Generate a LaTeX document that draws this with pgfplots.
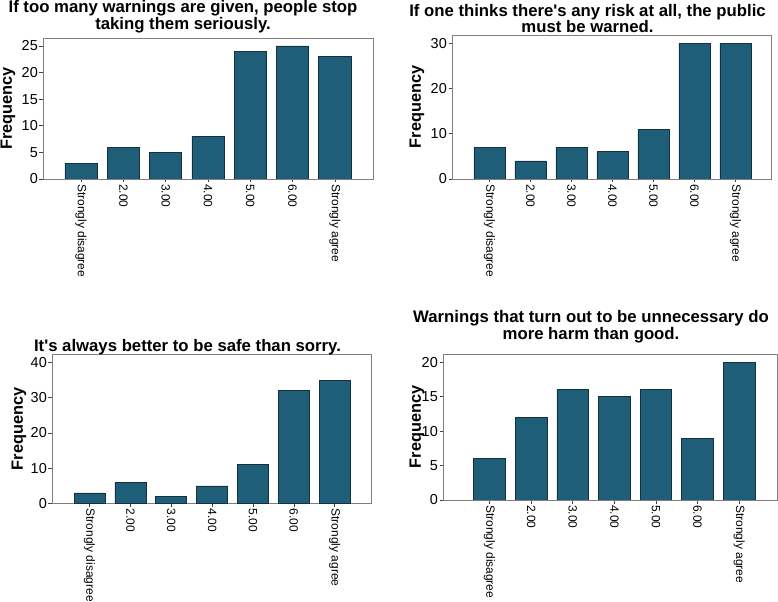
\documentclass[border=0pt]{standalone}
\usepackage{pgfplots}
\pgfplotsset{compat=1.18}
\usepackage{fontspec}
\setmainfont{Liberation Sans}[Ligatures=TeXOff]
\definecolor{barfill}{RGB}{31,94,120}
\definecolor{baredge}{RGB}{22,48,60}
\pgfplotsset{
  panel/.style={
    scale only axis,
    ybar, bar width=0.76,
    ymin=0,
    xtick={0,...,6},
    xticklabels={Strongly disagree,2.00,3.00,4.00,5.00,6.00,Strongly agree},
    xtick pos=left, ytick pos=left,
    tick align=outside,
    major tick length=3.5bp,
    tick style={black!75, line width=0.6bp},
    axis line style={black!50, line width=0.8bp},
    /pgf/number format/assume math mode=true,
    xticklabel style={rotate=-90, anchor=west, inner sep=1.5bp, font=\fontsize{12}{12}\selectfont},
    yticklabel style={inner sep=1.5bp, font=\fontsize{14.5}{15}\selectfont},
    ylabel={Frequency},
    ylabel style={at={(rel axis cs:0,0.5)}, anchor=center, font=\fontsize{16.4}{17}\selectfont\bfseries},
    title style={at={(rel axis cs:0.5,1)}, anchor=center, align=center, font=\fontsize{16.8}{17}\selectfont\bfseries},
  },
  bars/.style={fill=barfill, draw=baredge, line width=0.7bp},
}
\begin{document}
\begin{tikzpicture}
% top-left
\begin{axis}[panel, at={(43bp,423bp)}, anchor=south west, width=330bp, height=141bp,
  xmin=-0.9, xmax=6.9, ymax=26.5, ytick={0,5,10,15,20,25},
  ylabel style={yshift=35bp},
  title={If too many warnings are given, people stop\\taking them seriously.},
  title style={xshift=-25bp, yshift=15bp}]
\addplot[bars] coordinates {(0,3) (1,6) (2,5) (3,8) (4,24) (5,25) (6,23)};
\end{axis}
% top-right
\begin{axis}[panel, at={(452bp,423bp)}, anchor=south west, width=319bp, height=144bp,
  xmin=-0.915, xmax=6.866, ymax=31.8, ytick={0,10,20,30},
  ylabel style={yshift=35bp},
  title={If one thinks there's any risk at all, the public\\must be warned.},
  title style={xshift=-24bp, yshift=10.5bp}]
\addplot[bars] coordinates {(0,7) (1,4) (2,7) (3,6) (4,11) (5,30) (6,30)};
\end{axis}
% bottom-left
\begin{axis}[panel, at={(52bp,98.5bp)}, anchor=south west, width=319bp, height=149.5bp,
  xmin=-0.92, xmax=6.89, ymax=42.4, ytick={0,10,20,30,40},
  ylabel style={yshift=33bp},
  title={It's always better to be safe than sorry.},
  title style={xshift=-24bp, yshift=0.5bp}]
\addplot[bars] coordinates {(0,3) (1,6) (2,2) (3,5) (4,11) (5,32) (6,35)};
\end{axis}
% bottom-right
\begin{axis}[panel, at={(443bp,102bp)}, anchor=south west, width=334bp, height=146bp,
  xmin=-1.12, xmax=6.91, ymax=21.2, ytick={0,5,10,15,20},
  ylabel style={yshift=26bp},
  title={Warnings that turn out to be unnecessary do\\more harm than good.},
  title style={xshift=-19bp, yshift=21.5bp}]
\addplot[bars] coordinates {(0,6) (1,12) (2,16) (3,15) (4,16) (5,9) (6,20)};
\end{axis}
\pgfresetboundingbox
\path (0,0) rectangle (778bp,602bp);
\end{tikzpicture}
\end{document}
